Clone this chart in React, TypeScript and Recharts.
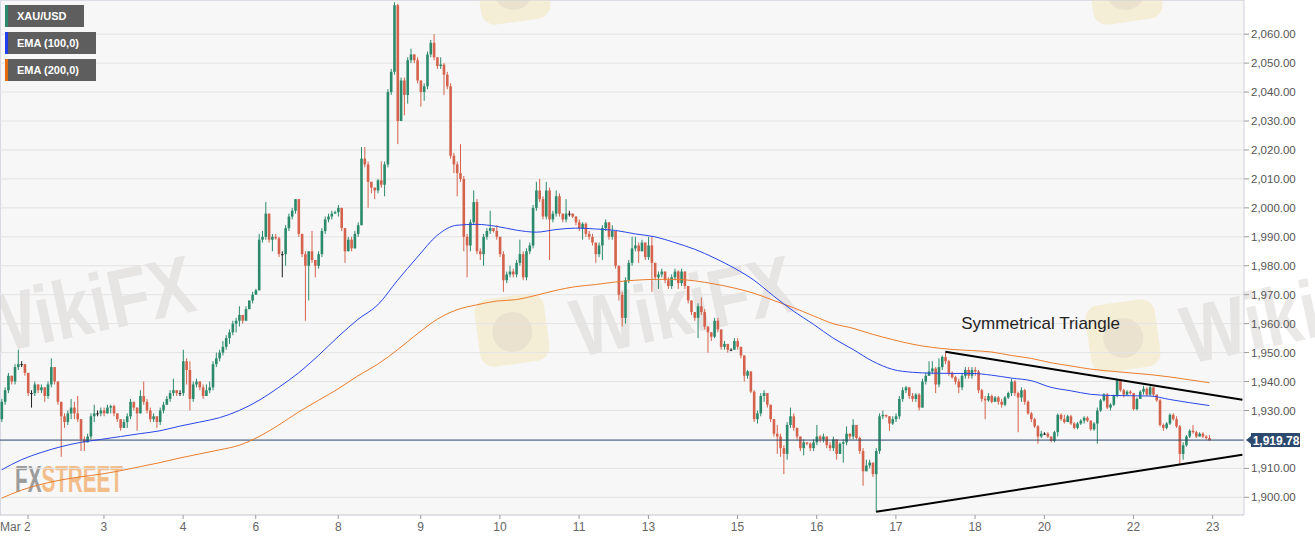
import {
  Bar,
  CartesianGrid,
  ComposedChart,
  Line,
  ReferenceDot,
  ReferenceLine,
  XAxis,
  YAxis,
} from "recharts";

// hourly XAU/USD candles, open = previous close
const startOpen = 1927;

const closes = [
  1933, 1937, 1942, 1940, 1945, 1946, 1946, 1943, 1936, 1936,
  1939, 1937, 1938, 1935, 1939, 1945, 1940, 1933, 1928, 1926,
  1929, 1931, 1929, 1927, 1920, 1919, 1921, 1928, 1929, 1929,
  1930, 1929, 1931, 1931.5, 1929, 1927, 1924, 1926, 1928, 1933,
  1931, 1929, 1935, 1933, 1930, 1927, 1928, 1926, 1930, 1932,
  1934, 1936, 1937, 1936, 1936, 1947, 1944, 1934, 1939, 1940,
  1938, 1935, 1937, 1938, 1946,
  1948, 1950, 1952, 1955, 1957, 1960, 1961, 1963, 1961, 1965,
  1968, 1970, 1971.5, 1989, 1990, 1998, 1989, 1990, 1989.5, 1984,
  1984, 1993, 1997, 1999, 2003, 1991, 1984, 1980, 1985, 1982,
  1980, 1984, 1992, 1996, 1997, 1998, 1998.5, 2000, 1993, 1985,
  1989, 1986, 1991, 1994, 2017, 2015, 2009, 2007, 2006, 2009.5,
  2008, 2015, 2040, 2047, 2070, 2030, 2044, 2039, 2051, 2053,
  2051,
  2044, 2040, 2042, 2053, 2057, 2052, 2049, 2049.5, 2046, 2042,
  2018, 2015, 2012, 2010, 1990, 1987, 1995, 2002, 1985, 1984,
  1990, 1992, 1993, 1992, 1990, 1984, 1975, 1977, 1978, 1977,
  1981, 1984, 1976, 1985, 1987, 2000, 2006, 2003, 1997, 2006,
  1996, 1998, 2004, 1998, 1996, 1998, 1998, 1997, 1995, 1993,
  1994.5, 1991, 1990, 1988, 1984, 1987, 1993, 1995, 1990, 1992,
  1980,
  1970, 1962, 1975, 1981, 1986, 1987, 1985, 1988, 1983, 1987,
  1981, 1976, 1977, 1978, 1975, 1973, 1976, 1978, 1974, 1978,
  1973, 1968, 1964, 1962, 1966, 1964, 1959, 1957, 1955.5, 1961,
  1958, 1952, 1953, 1951, 1951, 1954, 1952, 1949, 1942, 1943.5,
  1936.5, 1927, 1929, 1935, 1936, 1932, 1927, 1922, 1921, 1917,
  1915, 1925, 1928, 1924, 1921, 1917, 1919, 1918.5, 1917, 1919,
  1921, 1920, 1921, 1918, 1917,
  1920, 1915, 1918.5, 1919, 1922, 1921, 1925, 1920.5, 1916, 1909,
  1911, 1912, 1908, 1916, 1928, 1928.5, 1928, 1925.5, 1927, 1928,
  1934, 1937, 1938, 1935, 1934, 1935.5, 1931, 1940, 1942, 1943.5,
  1944.5, 1939, 1945, 1948.5, 1947, 1943, 1941.5, 1940, 1938, 1942,
  1944, 1942, 1944, 1943.5, 1937, 1934, 1933.5, 1935, 1933, 1934.5,
  1933, 1932, 1934.5, 1936, 1940, 1936, 1934.5, 1937, 1933, 1929,
  1927, 1924.5,
  1921, 1922, 1922, 1921, 1919.5, 1922.5, 1928.5, 1927, 1926, 1928,
  1925.5, 1924, 1925.5, 1926.5, 1927.5, 1926.5, 1923.5, 1925.5, 1930, 1933.5,
  1935.5, 1931, 1932, 1935, 1940.5, 1937, 1935.5, 1936.5, 1936, 1930.5,
  1934, 1936.5, 1937.5, 1935.5, 1938, 1935.5, 1933.5, 1925, 1924, 1925.5,
  1928.5, 1927, 1924.5, 1915, 1918, 1921, 1923, 1922.5, 1921, 1922,
  1921, 1920.5, 1919.78,
];

const highs = [
  1934, 1938, 1943, 1942, 1946, 1951, 1947, 1946, 1943, 1937,
  1940, 1939, 1939, 1938, 1940, 1948, 1945, 1940, 1933, 1929,
  1930, 1934, 1933, 1935, 1927, 1921, 1922, 1929, 1932, 1930,
  1931, 1931, 1932, 1932, 1932, 1929, 1927, 1927, 1929, 1934,
  1933, 1931, 1937, 1940, 1934, 1931, 1929, 1928, 1931, 1933,
  1935, 1937, 1941, 1937, 1937, 1951, 1948, 1947, 1940, 1941,
  1940, 1939, 1939, 1940, 1947,
  1950, 1951, 1954, 1956, 1958, 1961, 1962, 1966, 1963, 1966,
  1968, 1971, 1972, 1991, 1992, 2002, 1998, 1991, 1991, 1990,
  1985, 1994, 1998, 2000, 2003, 2003, 1991, 1985, 1985, 1992,
  1982, 1985, 1993, 1997, 1998, 1999, 1999, 2001, 2000, 1993,
  1990, 1990, 1992, 1995, 2021, 2021, 2016, 2009, 2007, 2010,
  2016, 2016, 2041, 2048, 2071, 2070.5, 2045, 2045, 2052, 2055,
  2052,
  2052, 2044, 2043, 2054, 2058, 2060, 2052, 2052, 2050, 2047,
  2043, 2019, 2016, 2022, 2011, 1991, 1996, 2006, 2003, 1986,
  1991, 1993, 1999, 1993, 1994, 1990, 1985, 1978, 1980, 1979,
  1982, 1989, 1985, 1986, 1988, 2001, 2009, 2010, 2004, 2009,
  2007, 1999, 2006, 2005, 1998, 2003, 1999, 1998, 1997, 1996,
  1995, 1995, 1992, 1991, 1988, 1988, 1994, 1996, 1995, 1994,
  1992,
  1980, 1971, 1976, 1982, 1990, 1990, 1988, 1989, 1988, 1990,
  1990, 1981, 1978, 1979, 1978, 1976, 1977, 1979, 1978.5, 1979,
  1978, 1973, 1968, 1964, 1967, 1969, 1965, 1959, 1957, 1962,
  1962, 1958, 1954, 1953, 1951.5, 1955, 1955, 1952, 1949, 1944,
  1943.5, 1937, 1930, 1936, 1937, 1936, 1932, 1927, 1925, 1922,
  1918, 1926, 1931, 1929, 1924, 1921, 1920, 1919, 1919, 1920,
  1925, 1921.5, 1922, 1921, 1919,
  1921, 1920, 1919, 1920, 1924.5, 1922, 1927, 1925, 1921, 1917,
  1913, 1913, 1912, 1917, 1929, 1930, 1928.5, 1928, 1928, 1929,
  1935, 1938, 1938.5, 1938, 1936, 1936, 1936, 1941, 1943, 1947,
  1947, 1945, 1948, 1949, 1950, 1947.5, 1943.5, 1942, 1941, 1943,
  1945, 1945, 1945, 1945, 1944, 1937.5, 1935, 1936, 1935.5, 1935,
  1935, 1934, 1935, 1936.5, 1941, 1940.5, 1936.5, 1938, 1937.5, 1933.5,
  1929.5, 1927.5,
  1925, 1923, 1922.5, 1922.5, 1921, 1923, 1929, 1929, 1928.5, 1928.5,
  1928.5, 1926, 1926, 1927, 1928, 1928, 1926.5, 1926, 1931, 1934,
  1936, 1936, 1932.5, 1935.5, 1941, 1940.5, 1937.5, 1937, 1937, 1936,
  1934.5, 1937, 1938.5, 1938, 1938.5, 1938, 1935.5, 1934, 1925.5, 1926,
  1929, 1929, 1928, 1925, 1919, 1921.5, 1923.5, 1925, 1923, 1922.5,
  1922.5, 1921.5, 1921.5,
];

const lows = [
  1926, 1932, 1936, 1939, 1939, 1944, 1945, 1942, 1935, 1931,
  1935, 1936, 1936, 1933, 1934, 1938, 1939, 1932, 1914, 1924,
  1925, 1927, 1927, 1926, 1916, 1916, 1919, 1920, 1926, 1928,
  1928, 1928, 1929, 1929, 1928, 1926, 1923, 1924, 1924, 1927,
  1930, 1923, 1929, 1932, 1929, 1926, 1926, 1924, 1925, 1929,
  1932, 1933, 1935, 1935, 1935, 1935, 1939, 1930, 1933, 1938,
  1937, 1934, 1935, 1936, 1937,
  1945, 1947, 1949, 1951, 1953, 1956, 1957, 1959, 1960, 1961,
  1965, 1967, 1970, 1975, 1988, 1989, 1988, 1985, 1989, 1983,
  1976, 1980, 1992, 1996, 1998, 1990, 1983, 1961, 1968, 1981,
  1976, 1979, 1983, 1991, 1995, 1996, 1998, 1997, 1992, 1981,
  1985, 1985, 1986, 1990, 1994, 2014, 2000, 2005, 2003, 2005,
  2007, 2004, 2014, 2039, 2046, 2022, 2030, 2032, 2036, 2050,
  2050,
  2043, 2035, 2037, 2041, 2052, 2051, 2048, 2048, 2039, 2041,
  2017, 2012, 2004, 2009, 1985, 1976, 1985, 1994, 1984, 1982,
  1980, 1989, 1991, 1991.5, 1989, 1983, 1971, 1974, 1976, 1976,
  1976, 1980, 1975, 1975, 1984, 1986, 1999, 2002, 1996, 1996,
  1982, 1995, 1997, 1997, 1995, 1995, 1997, 1996.5, 1994, 1992,
  1989, 1990, 1989, 1987, 1981, 1983, 1982, 1992, 1989, 1989,
  1979,
  1968, 1959, 1960, 1974, 1980, 1985, 1981, 1985, 1982, 1982,
  1971, 1975, 1972, 1976, 1974, 1972, 1972, 1975, 1972, 1973,
  1972, 1967, 1963, 1961, 1955, 1963, 1958, 1950, 1954, 1955,
  1957, 1951, 1951, 1950, 1950.5, 1951, 1951, 1948, 1940, 1941,
  1936, 1926, 1925.5, 1928, 1933, 1931, 1926, 1921, 1915, 1914,
  1908, 1913, 1924, 1923, 1920, 1916, 1914.5, 1918, 1916, 1916,
  1918, 1919, 1919, 1917, 1916,
  1916, 1913, 1915, 1912, 1918, 1920, 1920, 1920, 1915, 1904,
  1909, 1910, 1907, 1895, 1915, 1927, 1927.5, 1923, 1925, 1926,
  1927, 1933, 1936, 1934, 1933, 1933, 1930, 1931, 1939, 1942,
  1942.5, 1936, 1938, 1944, 1946, 1942, 1941, 1939, 1936, 1937,
  1941, 1941, 1941, 1942, 1936, 1933, 1927, 1933, 1932.5, 1933,
  1932, 1931, 1931.5, 1934, 1935, 1935, 1922.5, 1933, 1932, 1928.5,
  1926, 1924,
  1918.5, 1920.5, 1921.5, 1920.5, 1919, 1919, 1921, 1926.5, 1925.5, 1926,
  1925, 1923.5, 1923.5, 1925, 1925.5, 1926, 1923, 1923, 1918.5, 1929.5,
  1933, 1930.5, 1930, 1931.5, 1934.5, 1936.5, 1934.5, 1935, 1935.5, 1930,
  1930, 1934, 1935.5, 1935, 1935, 1935, 1933, 1924.5, 1923, 1923.5,
  1925, 1926.5, 1924, 1911.5, 1913, 1917.5, 1920.5, 1922, 1920.5, 1921.5,
  1920.5, 1920, 1919.5,
];

// EMA readings taken every 6th candle
const emaStep = 6;
const ema100 = [
  1909.5, 1913, 1915.5, 1917.5, 1919, 1920, 1921, 1922, 1923, 1924.6,
  1926, 1927.5, 1930, 1933.5, 1938, 1943, 1949, 1955.5, 1961.5, 1966.5,
  1975, 1983, 1990.5, 1994, 1994.3, 1993.6, 1992.3, 1991.6, 1992.5, 1993,
  1992.7, 1992.2, 1991, 1990, 1988, 1985.7, 1982.7, 1979.2, 1975, 1969.5,
  1964.3, 1959.8, 1955, 1951.1, 1947, 1944.2, 1943.2, 1942.9, 1942.8, 1942.8,
  1942.2, 1941.2, 1940.3, 1938, 1936.8, 1935.6, 1935.2, 1935.1, 1935, 1933.8,
  1932.7, 1931.7,
];
const ema200 = [
  1899.7, 1902.5, 1904.5, 1906, 1907.1, 1908, 1909.2, 1910.6, 1912, 1913.6,
  1915, 1916.4, 1918, 1921, 1925, 1929.5, 1933.5, 1937.5, 1942, 1946,
  1951, 1956.5, 1961.5, 1964.8, 1966.5, 1967.8, 1968.3, 1969.8, 1971.5, 1972.8,
  1973.5, 1974.4, 1975, 1975.3, 1975.3, 1974.8, 1973.7, 1972.3, 1970.5, 1968,
  1965.5, 1962.7, 1960, 1958.4, 1956.3, 1954.5, 1952.9, 1951.8, 1951.1, 1950.7,
  1950.2, 1949, 1948, 1946.5, 1945.4, 1944.3, 1943.6, 1943, 1942.4, 1941.6,
  1940.6, 1939.6,
];

const dayTicks = [8, 31, 55, 77, 102, 127, 151, 175, 196, 223, 247, 271, 295, 316, 343, 367];
const dayLabels = ["Mar 2", "3", "4", "6", "8", "9", "10", "11", "13", "15", "16", "17", "18", "20", "22", "23"];
// 1,920 is hidden behind the last-price tag in the original
const priceTicks = [1900, 1910, 1930, 1940, 1950, 1960, 1970, 1980, 1990, 2000, 2010, 2020, 2030, 2040, 2050, 2060];
const lastPrice = 1919.78;
const emptySlots = 10;

const upperTrend = [
  { x: 286, y: 1950.3 },
  { x: 376, y: 1933.7 },
];
const lowerTrend = [
  { x: 265, y: 1895 },
  { x: 376, y: 1914.7 },
];

const rows: any[] = [];
for (let i = 0; i < closes.length + emptySlots; i++) {
  const row: any = { i, ema100: null, ema200: null };
  if (i < closes.length) {
    const o = i === 0 ? startOpen : closes[i - 1];
    const c = closes[i];
    const h = Math.max(highs[i], o, c);
    const l = Math.min(lows[i], o, c);
    Object.assign(row, { o, c, h, l, range: [l, h] });
    if (i % emaStep === 0) {
      row.ema100 = ema100[i / emaStep];
      row.ema200 = ema200[i / emaStep];
    }
  }
  rows.push(row);
}

const font = "'Liberation Sans', Arial, sans-serif";
const fmtPrice = (v: number) =>
  v.toLocaleString("en-US", { minimumFractionDigits: 2, maximumFractionDigits: 2 });

function Candle(props: any) {
  const { x, width, payload } = props;
  let { y, height } = props;
  if (!payload || payload.c == null) return null;
  if (height < 0) {
    y += height;
    height = -height;
  }
  const { o, c, h, l } = payload;
  const k = h > l ? height / (h - l) : 0;
  const py = (v: number) => y + (h - v) * k;
  const cx = x + width / 2;
  const flat = Math.abs(c - o) < 0.3;
  const color = flat ? "#222" : c > o ? "#2b8a6c" : "#d4624c";
  const top = py(Math.max(o, c));
  const bh = Math.max(1, py(Math.min(o, c)) - top);
  const bw = 2.6;
  return (
    <g>
      <line x1={cx} x2={cx} y1={y} y2={y + height} stroke={color} strokeWidth={1} />
      <rect x={cx - bw / 2} y={top} width={bw} height={bh} fill={color} />
    </g>
  );
}

function DayTick(props: any) {
  const { x, y, payload } = props;
  const k = dayTicks.indexOf(payload.value);
  const first = k === 0;
  return (
    <text
      x={first ? 0 : x}
      y={y + 10}
      textAnchor={first ? "start" : "middle"}
      fontSize={12}
      fill="#666"
      fontFamily={font}
    >
      {dayLabels[k]}
    </text>
  );
}

function PriceTag(props: any) {
  const vb = props.viewBox || {};
  const x = vb.x + vb.width + 2;
  const y = vb.y;
  return (
    <g>
      <path
        d={`M${x} ${y} L${x + 5} ${y - 4} L${x + 5} ${y - 7} L${x + 54} ${y - 7} L${x + 54} ${y + 7} L${x + 5} ${y + 7} L${x + 5} ${y + 4} Z`}
        fill="#2d4a6e"
      />
      <text x={x + 30} y={y + 4.5} textAnchor="middle" fill="#fff" fontSize={12} fontWeight="bold" fontFamily={font}>
        {fmtPrice(lastPrice)}
      </text>
    </g>
  );
}

function Watermarks() {
  const marks = [
    { x: -30, cx: 80, cy: 305 },
    { x: 570, cx: 680, cy: 305 },
    { x: 1180, cx: 1290, cy: 312 },
  ];
  const logos = [
    { x: 477, y: 296 },
    { x: 1088, y: 302 },
    { x: 478, y: -46 },
    { x: 1090, y: -46 },
  ];
  return (
    <svg width={1315} height={537} style={{ position: "absolute", left: 0, top: 0 }}>
      {logos.map((p, n) => (
        <g key={n} transform={`rotate(-8 ${p.x + 35} ${p.y + 34})`}>
          <rect x={p.x} y={p.y} width={70} height={68} rx={14} fill="#f1d98e" opacity={0.3} />
          <circle cx={p.x + 35} cy={p.y + 36} r={20} fill="#a89c9c" opacity={0.14} />
        </g>
      ))}
      {marks.map((m, n) => (
        <text
          key={n}
          x={m.x}
          y={m.cy + 30}
          transform={`rotate(-12 ${m.cx} ${m.cy})`}
          fontSize={82}
          fontWeight="bold"
          fontFamily={font}
          fill="#d9d2d2"
          opacity={0.5}
          textLength={225}
          lengthAdjust="spacingAndGlyphs"
        >
          WikiFX
        </text>
      ))}
      <text x={15} y={492} fontSize={36} fontWeight="bold" fontFamily={font} opacity={0.85} textLength={108} lengthAdjust="spacingAndGlyphs">
        <tspan fill="#8d8d8d">FX</tspan>
        <tspan fill="#f3b478">STREET</tspan>
      </text>
    </svg>
  );
}

const legendItems = [
  { label: "XAU/USD", color: "#2b8a6c", width: 79 },
  { label: "EMA (100,0)", color: "#1f3fe8", width: 91 },
  { label: "EMA (200,0)", color: "#e26b12", width: 91 },
];

export default function App() {
  return (
    <div style={{ position: "absolute", left: 0, top: 0, width: 1315, height: 537, background: "#fff", fontFamily: font }}>
      <div
        style={{
          position: "absolute",
          left: 0,
          top: 0,
          width: 1244,
          height: 515,
          background: "#f7f7f7",
          borderTop: "1px solid #d6d8e6",
          borderLeft: "1px solid #d6d8e6",
          boxSizing: "border-box",
        }}
      />
      <Watermarks />
      <div style={{ position: "absolute", left: 0, top: 0 }}>
        <ComposedChart width={1315} height={537} data={rows} margin={{ top: 0, right: 0, bottom: 0, left: 0 }}>
          <CartesianGrid vertical={false} stroke="#e3e3e3" />
          <XAxis
            dataKey="i"
            type="category"
            ticks={dayTicks}
            interval={0}
            height={22}
            tick={(p: any) => <DayTick {...p} />}
            axisLine={{ stroke: "#cfd1dc" }}
            tickLine={{ stroke: "#9a9a9a" }}
            tickSize={4}
          />
          <YAxis
            orientation="right"
            type="number"
            domain={[1893.9, 2071.8]}
            allowDataOverflow
            ticks={priceTicks}
            interval={0}
            width={71}
            tickFormatter={fmtPrice}
            tick={{ fontSize: 11.5, fill: "#555", fontFamily: font }}
            axisLine={{ stroke: "#cfd1dc" }}
            tickLine={{ stroke: "#9a9a9a" }}
            tickSize={5}
          />
          <ReferenceLine y={lastPrice} stroke="#2b4468" strokeWidth={1} label={(p: any) => <PriceTag {...p} />} />
          <Line dataKey="ema200" type="monotone" stroke="#ea7d2d" strokeWidth={1} dot={false} activeDot={false} connectNulls isAnimationActive={false} />
          <Line dataKey="ema100" type="monotone" stroke="#2a46e8" strokeWidth={1} dot={false} activeDot={false} connectNulls isAnimationActive={false} />
          <Bar dataKey="range" shape={(p: any) => <Candle {...p} />} isAnimationActive={false} />
          <ReferenceLine segment={upperTrend} stroke="#000" strokeWidth={2} ifOverflow="visible" />
          <ReferenceLine segment={lowerTrend} stroke="#000" strokeWidth={2} ifOverflow="visible" />
          <ReferenceDot
            x={289}
            y={1960.2}
            r={0}
            fill="none"
            stroke="none"
            label={{ value: "Symmetrical Triangle", position: "right", offset: 6, fontSize: 17, fill: "#222", fontFamily: font }}
          />
        </ComposedChart>
      </div>
      {legendItems.map((it, n) => (
        <div
          key={it.label}
          style={{
            position: "absolute",
            left: 5,
            top: 5 + n * 27,
            width: it.width,
            height: 22,
            background: "#5e5e5e",
            borderLeft: `3px solid ${it.color}`,
            boxSizing: "border-box",
            color: "#fff",
            fontSize: 11,
            fontWeight: "bold",
            lineHeight: "22px",
            paddingLeft: 9,
          }}
        >
          {it.label}
        </div>
      ))}
    </div>
  );
}
